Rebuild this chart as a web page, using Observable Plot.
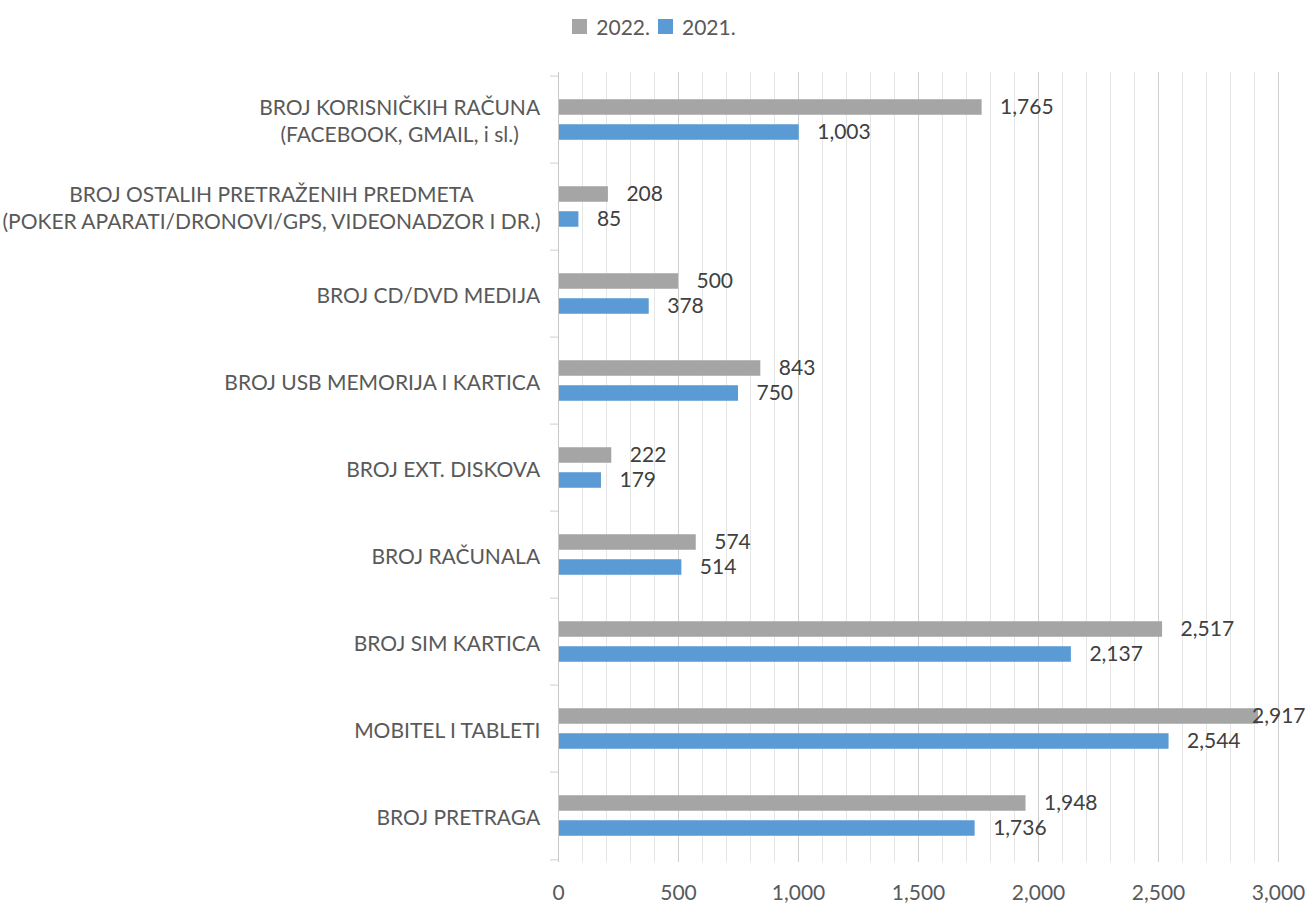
<!DOCTYPE html>
<html>
<head>
<meta charset="utf-8">
<script src="https://cdn.jsdelivr.net/npm/d3@7"></script>
<script src="https://cdn.jsdelivr.net/npm/@observablehq/plot@0.6"></script>
<style>
  body { margin: 0; background: #fff; font-family: Lato, sans-serif; }
  #legend { height: 55px; display: flex; justify-content: center; align-items: flex-start; font-size: 21px; color: #595959; }
  #legend .item { display: flex; align-items: center; margin: 14px 4px 0 4px; }
  #legend .sw { width: 15px; height: 15px; margin-right: 9px; }
</style>
</head>
<body>
<div id="legend"></div>
<div id="chart"></div>
<script>
const categories = [
  "BROJ KORISNIČKIH RAČUNA\n(FACEBOOK, GMAIL, i sl.)",
  "BROJ OSTALIH PRETRAŽENIH PREDMETA\n(POKER APARATI/DRONOVI/GPS, VIDEONADZOR I DR.)",
  "BROJ CD/DVD MEDIJA",
  "BROJ USB MEMORIJA I KARTICA",
  "BROJ EXT. DISKOVA",
  "BROJ RAČUNALA",
  "BROJ SIM KARTICA",
  "MOBITEL I TABLETI",
  "BROJ PRETRAGA"
];
const series = ["2022.", "2021."];
const values2022 = [1765, 208, 500, 843, 222, 574, 2517, 2917, 1948];
const values2021 = [1003, 85, 378, 750, 179, 514, 2137, 2544, 1736];
const xTicks = [0, 500, 1000, 1500, 2000, 2500, 3000];
const minorTicks = d3.range(0, 3001, 100);
const colors = {"2022.": "#A5A5A5", "2021.": "#5B9BD5"};

const rows = [];
categories.forEach((c, i) => {
  rows.push({cat: c, series: "2022.", value: values2022[i]});
  rows.push({cat: c, series: "2021.", value: values2021[i]});
});

// legend
const legend = document.getElementById("legend");
series.forEach(s => {
  const it = document.createElement("div");
  it.className = "item";
  it.innerHTML = `<span class="sw" style="background:${colors[s]}"></span><span>${s}</span>`;
  legend.appendChild(it);
});

const W = 1308, H = 849, mT = 17, mB = 42, mL = 558, mR = 30;
const step = (H - mT - mB) / categories.length;
const off = 12.5;          // half distance between bar centres
const barH = 16.3;
const inA = step / 2 - off - barH / 2;       // small inset
const inB = step - inA - barH;               // large inset
const fmt = d3.format(",");
const overflow = d => d.value > 2800;

const rows22 = rows.filter(d => d.series === "2022.");
const rows21 = rows.filter(d => d.series === "2021.");

const plot = Plot.plot({
  width: W, height: H,
  marginTop: mT, marginBottom: mB, marginLeft: mL, marginRight: mR,
  style: {fontFamily: "Lato, sans-serif", fontSize: "21px", color: "#595959", background: "#fff"},
  x: {domain: [0, 3000]},
  y: {domain: categories, padding: 0},
  marks: [
    Plot.ruleX(minorTicks.filter(v => v % 500 !== 0), {stroke: "#E6E6E6", strokeWidth: 1}),
    Plot.ruleX(xTicks, {stroke: "#D0D0D0", strokeWidth: 1}),
    Plot.ruleY(categories, {y: d => d, x1: 0, x2: 0, insetLeft: -8, dy: -step / 2, stroke: "#D0D0D0"}),
    Plot.ruleY([categories[categories.length - 1]], {y: d => d, x1: 0, x2: 0, insetLeft: -8, dy: step / 2, stroke: "#D0D0D0"}),
    Plot.barX(rows22, {x: "value", y: "cat", fill: colors["2022."], insetTop: inA, insetBottom: inB}),
    Plot.barX(rows21, {x: "value", y: "cat", fill: colors["2021."], insetTop: inB, insetBottom: inA}),
    Plot.text(rows22.filter(d => !overflow(d)), {x: "value", y: "cat", text: d => fmt(d.value), dy: -off, dx: 18, textAnchor: "start", fill: "#404040"}),
    Plot.text(rows21.filter(d => !overflow(d)), {x: "value", y: "cat", text: d => fmt(d.value), dy: off, dx: 18, textAnchor: "start", fill: "#404040"}),
    Plot.text(rows22.filter(overflow), {y: "cat", frameAnchor: "right", text: d => fmt(d.value), dy: -off, dx: 27, textAnchor: "end", fill: "#404040"}),
    Plot.text(rows21.filter(overflow), {y: "cat", frameAnchor: "right", text: d => fmt(d.value), dy: off, dx: 27, textAnchor: "end", fill: "#404040"}),
    Plot.ruleX([0], {stroke: "#C8C8C8"}),
    Plot.text(categories, {y: d => d, text: d => d, frameAnchor: "left", dx: -18, textAnchor: "middle", lineHeight: 1.3, fill: "#595959", fontSize: 21, className: "catlabels"}),
    Plot.axisX({ticks: xTicks, tickFormat: fmt, tickSize: 0, tickPadding: 23, fill: "#595959", label: null}),
    Plot.axisY({ticks: [], label: null})
  ]
});
document.getElementById("chart").appendChild(plot);

// right-align each label block while keeping its lines centred on one another
plot.querySelectorAll(".catlabels text").forEach(t => {
  const w = t.getBBox().width;
  const tr = t.getAttribute("transform") || "";
  t.setAttribute("transform", tr + ` translate(${-w / 2},0)`);
});
</script>
</body>
</html>
